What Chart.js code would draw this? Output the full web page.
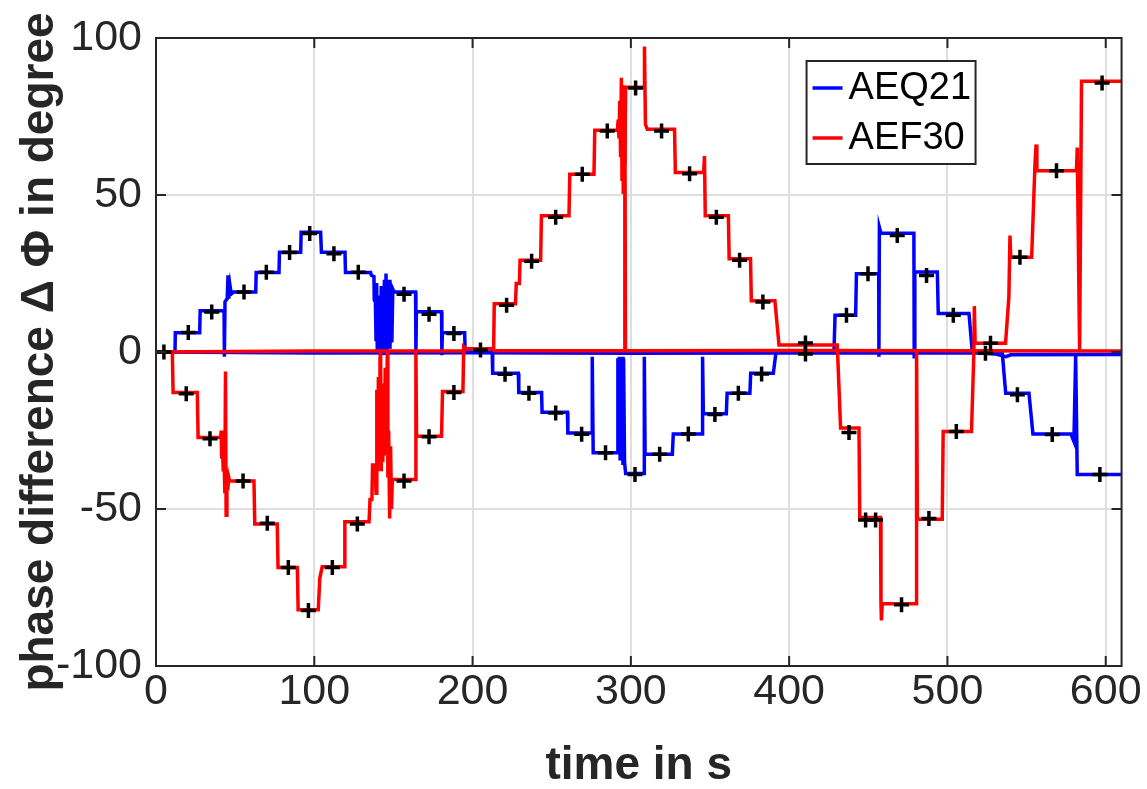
<!DOCTYPE html>
<html>
<head>
<meta charset="utf-8">
<script src="https://cdn.jsdelivr.net/npm/chart.js@4"></script>
<style>
html, body { margin: 0; padding: 0; background: #fff; }
</style>
</head>
<body>
<canvas id="chart1" width="1147" height="789"></canvas>
<script>
// [time in s, phase difference in degree]
var aeq21Step = [
    [0, 0], [12, 0], [12.2, 6.1], [27.6, 6.1], [27.9, 13.1], [43, 13.1], [43.2, -1.5], [43.6, 16],
    [45, 17], [45.5, 24.4], [46, 17], [46.8, 21], [47.5, 18.5], [49, 19.1], [63, 19.1], [63.3, 25.3],
    [77.7, 25.3], [78, 31.8], [91.4, 31.8], [91.7, 38.1], [104, 38.1], [104.5, 31.8], [119.4, 31.8],
    [119.7, 25.3], [135.6, 25.3], [136, 24.4], [137.7, 24], [137.9, 16.5], [138.6, 16], [139, 4],
    [139.4, 22], [139.8, 0], [140.3, 18], [140.8, 1], [141.3, 15], [141.8, -1], [142.3, 21], [142.8, 2],
    [143.3, 14], [143.8, -1], [144.3, 23], [144.8, 4], [145.3, 25], [145.8, 0], [146.3, 19], [146.8, 6],
    [147.3, 23], [147.8, 1], [148.4, 17], [149, 3], [149.6, 20], [150.4, 19.1], [164, 19.1], [164.2, -1],
    [164.5, 12.8], [180.4, 12.8], [180.6, -1], [180.9, 6.1], [195, 6.1], [195.3, 0], [212.4, 0],
    [212.7, -6.8], [228.9, -6.8], [229.2, -12.9], [243.6, -12.9], [243.9, -19.2], [259.9, -19.2],
    [260.2, -25.8], [275.5, -25.8], [275.6, -1.5], [276.2, -32.1], [291.5, -32.1], [291.8, -2],
    [292.3, -30], [292.7, -1.5], [293.2, -34], [293.6, -1.5], [294, -28], [294.5, -1.5], [295, -36],
    [295.4, -2], [296, -35], [296.7, -38.7], [308.3, -38.7], [308.5, -1.5], [309, -32.6], [326.2, -32.6],
    [326.8, -26.1], [345.1, -26.1], [345.3, -1.5], [345.8, -19.7], [360.3, -19.7], [360.8, -13.1],
    [375.2, -13.1], [375.7, -6.8], [390, -6.8], [391.7, 0], [428.3, 0], [429, 11.7], [442, 11.7],
    [442.5, 24.9], [456.6, 24.9], [456.7, -1.5], [457, 39.7], [458, 37.8], [478.8, 37.8], [479, -1.5],
    [479.4, 25.5], [493.6, 25.5], [494.2, 12.3], [513.6, 12.3], [515.7, 0], [534.6, 0], [536.8, -13.1],
    [551.5, -13.1], [554, -26.1], [578, -26.1], [579.9, -28.5], [581, -1], [582, -39], [610, -39]
];
var aeq21Base = [
    [0, 0], [100, -0.3], [200, -0.2], [300, -0.4], [400, -0.3], [520, -0.3], [530, -0.6],
    [537, -1.5], [540, -0.9], [610, -0.8]
];
var aef30Step = [
    [0, 0], [10.3, 0], [10.8, -12.9], [26.1, -12.9], [26.6, -27.2], [40.9, -27.2], [41.2, -25],
    [41.5, -34], [42, -30], [42.5, -38], [43, -33], [43.5, -45], [43.9, -6.2], [44.3, -52], [44.8, -38],
    [45.3, -44], [46, -40], [46.5, -41.1], [61.9, -41.1], [62.4, -54.8], [76.6, -54.8], [77.1, -68.6],
    [89.3, -68.6], [89.8, -82.1], [102.5, -82.1], [103.5, -72], [105, -68.4], [118.8, -68.4],
    [119.3, -54.1], [134.6, -54.1], [135.2, -47], [136.4, -47], [136.8, -36], [138.5, -36], [139, -45],
    [139.5, -12], [140, -38], [140.5, -8], [141, -30], [141.5, -2], [141.9, 0], [142.3, -38],
    [142.8, -15], [143.3, -35], [143.8, -10], [144.3, -28], [144.8, -5], [145.3, -33], [145.8, -20],
    [146.1, 0], [146.5, -40], [147, -25], [147.6, -53], [148.2, -30], [148.8, -50], [149.3, -40.6],
    [164, -40.6], [164.2, 0], [164.6, -26.8], [180.4, -26.8], [181, -12.6], [193.9, -12.6],
    [194.4, 1.7], [196, 1], [213.3, 1], [213.7, 15.4], [227.1, 15.4], [227.6, 21.8], [229.6, 21.8],
    [230, 29.2], [243, 29.2], [243.5, 43.4], [260.9, 43.4], [261.4, 56.6], [276.7, 56.6], [277.2, 70.6],
    [291.5, 70.6], [292, 74], [292.5, 68], [293, 80], [293.5, 62], [294, 87.3], [294.4, 55], [294.8, 85],
    [295.2, 50.3], [295.7, 82], [296.2, 60], [296.7, 84.3], [308.3, 84.3], [308.6, 97.3], [309.2, 72.5],
    [310.4, 70.9], [327.6, 70.9], [328.1, 57.2], [346, 57.2], [346.5, 62.4], [347, 43.4], [361.6, 43.4],
    [362.1, 29.7], [375.6, 29.7], [376.1, 16.3], [391, 16.3], [393.6, 2.2], [430.4, 2.2], [432.5, -24.2],
    [444.1, -24.2], [444.6, -52.7], [457.7, -52.7], [458, -80.2], [458.3, -85.5], [458.8, -80.2],
    [480.3, -80.2], [480.5, 0], [481, -53.3], [496.7, -53.3], [497.3, -25.3], [515.2, -25.3],
    [516.7, 0], [517, 14.6], [517.5, 2.8], [536.7, 2.8], [538.8, 17.5], [539.5, 37.1], [540, 30.2],
    [553.2, 30.2], [555.3, 59.8], [556, 66.1], [556.5, 57.7], [581.5, 57.7], [582, 65.1], [583.5, 0],
    [584.7, 86.2], [610, 86.2]
];
var aef30Base = [
    [0, 0], [100, 0.3], [194, 0.3], [196, 1], [212, 1], [214, 0.4], [295.8, 0.4], [296.2, 84],
    [296.6, 0.4], [400, 0.5], [516, 0.4], [610, 0.3]
];
var refPoints = [
    [5, 0], [20.4, 6.2], [35.2, 12.7], [55.6, 19.1], [69.7, 25.4], [84.4, 31.7], [97.1, 37.7],
    [112.4, 31.3], [127.8, 25.4], [156.7, 18.4], [172.5, 12], [188.2, 5.9], [205, 0.6], [220.5, -7.1],
    [235.6, -13.1], [252.5, -19.4], [268.9, -26.2], [284, -32.1], [302.6, -39], [318.2, -32.6],
    [336.3, -26.1], [353.1, -19.9], [367.9, -13.1], [382.6, -7], [410.3, -0.6], [436.2, 11.7],
    [449.8, 24.9], [468.3, 37.1], [486.8, 24.4], [503.7, 11.7], [524, -0.4], [544.2, -13.6],
    [566.2, -26.3], [596.3, -39],
    [19.1, -13.3], [34.1, -27.6], [55, -41.1], [70.3, -54.5], [83.6, -68.6], [96.3, -82.3],
    [111.4, -68.6], [127.2, -54.8], [156.7, -41.1], [172.5, -27], [188.2, -12.9], [221.5, 14.9],
    [237.3, 28.9], [252.5, 42.9], [269.3, 56.6], [285.1, 70.4], [303, 84.1], [319.4, 70.4],
    [337.1, 56.8], [354, 42.9], [368.7, 29.2], [383.4, 15.9], [410.3, 2.9], [437.8, -25.6],
    [448.3, -53.5], [454.6, -53.5], [471, -80.5], [488.3, -53], [505.6, -25.3], [527.2, 2.8],
    [545.8, 30.2], [568.9, 57.7], [597.7, 85.7]
];
var xTicks = [0, 100, 200, 300, 400, 500, 600];
var yTicks = [-100, -50, 0, 50, 100];

var toXY = function (list) {
    return list.map(function (p) { return {x: p[0], y: p[1]}; });
};

var fontName = '"Liberation Sans", Arial, Helvetica, sans-serif';

var traceStyle = function (label, color, data, legendRank) {
    return {
        label: label,
        legendRank: legendRank,
        data: toXY(data),
        borderColor: color,
        backgroundColor: color,
        borderWidth: 3.5,
        pointRadius: 0,
        fill: false,
        tension: 0
    };
};

// MATLAB style box, inward ticks and the legend inside the axes
var axesBox = {
    id: 'axesBox',
    afterDraw: function (chart) {
        var c = chart.ctx;
        var a = chart.chartArea;
        var xs = chart.scales.x;
        var ys = chart.scales.y;
        c.save();
        c.strokeStyle = '#262626';
        c.lineWidth = 2;
        c.beginPath();
        xs.ticks.forEach(function (t) {
            var px = xs.getPixelForValue(t.value);
            c.moveTo(px, a.bottom); c.lineTo(px, a.bottom - 10);
            c.moveTo(px, a.top); c.lineTo(px, a.top + 10);
        });
        ys.ticks.forEach(function (t) {
            var py = ys.getPixelForValue(t.value);
            c.moveTo(a.left, py); c.lineTo(a.left + 10, py);
            c.moveTo(a.right, py); c.lineTo(a.right - 10, py);
        });
        c.stroke();
        c.strokeRect(a.left, a.top, a.right - a.left, a.bottom - a.top);

        // legend
        var items = chart.data.datasets.filter(function (d) { return d.legendRank > 0; });
        items.sort(function (p, q) { return p.legendRank - q.legendRank; });
        var bx = a.right - 315, by = a.top + 23, bw = 169, bh = 103;
        c.fillStyle = '#fff';
        c.fillRect(bx, by, bw, bh);
        c.strokeStyle = '#262626';
        c.strokeRect(bx, by, bw, bh);
        c.font = '38px ' + fontName;
        c.textBaseline = 'middle';
        items.forEach(function (d, i) {
            var ly = by + 27 + i * 50;
            c.strokeStyle = d.borderColor;
            c.lineWidth = 3.5;
            c.beginPath();
            c.moveTo(bx + 6, ly); c.lineTo(bx + 36, ly);
            c.stroke();
            c.fillStyle = '#000';
            c.fillText(d.label, bx + 42, ly + 1);
        });
        c.restore();
    }
};

var ctx1 = document.getElementById('chart1').getContext('2d');

new Chart(ctx1, {
    type: 'line',
    data: {
        datasets: [
            {
                label: 'reference',
                legendRank: 0,
                data: toXY(refPoints),
                showLine: false,
                pointStyle: 'cross',
                pointRadius: 7.5,
                pointBorderWidth: 3.5,
                borderColor: '#000',
                backgroundColor: '#000'
            },
            traceStyle('AEF30', '#ff0000', aef30Base, 0),
            traceStyle('AEF30', '#ff0000', aef30Step, 2),
            traceStyle('AEQ21', '#0000ff', aeq21Base, 0),
            traceStyle('AEQ21', '#0000ff', aeq21Step, 1)
        ]
    },
    options: {
        responsive: false,
        animation: false,
        events: [],
        layout: {padding: {left: 0, right: 24, top: 38, bottom: 0}},
        plugins: {
            legend: {display: false},
            tooltip: {enabled: false}
        },
        scales: {
            x: {
                type: 'linear',
                min: 0,
                max: 610,
                afterBuildTicks: function (scale) {
                    scale.ticks = xTicks.map(function (v) { return {value: v}; });
                },
                afterFit: function (scale) { scale.height = 123; },
                grid: {color: '#dedede', lineWidth: 2, drawTicks: false},
                border: {display: false},
                ticks: {
                    color: '#262626',
                    padding: 5,
                    maxRotation: 0,
                    font: {family: fontName, size: 43, lineHeight: 1}
                },
                title: {
                    display: true,
                    text: 'time in s',
                    color: '#262626',
                    padding: {top: 0, bottom: 0},
                    font: {family: fontName, size: 46, weight: 'bold', lineHeight: 1}
                }
            },
            y: {
                type: 'linear',
                min: -100,
                max: 100,
                afterBuildTicks: function (scale) {
                    scale.ticks = yTicks.map(function (v) { return {value: v}; });
                },
                afterFit: function (scale) { scale.width = 156; },
                grid: {color: '#dedede', lineWidth: 2, drawTicks: false},
                border: {display: false},
                ticks: {
                    color: '#262626',
                    padding: 14,
                    font: {family: fontName, size: 43, lineHeight: 1}
                },
                title: {
                    display: true,
                    text: 'phase difference \u0394 \u03A6 in degree',
                    color: '#262626',
                    padding: {top: 17, bottom: 0},
                    font: {family: fontName, size: 46, weight: 'bold', lineHeight: 1}
                }
            }
        }
    },
    plugins: [axesBox]
});
</script>
</body>
</html>
